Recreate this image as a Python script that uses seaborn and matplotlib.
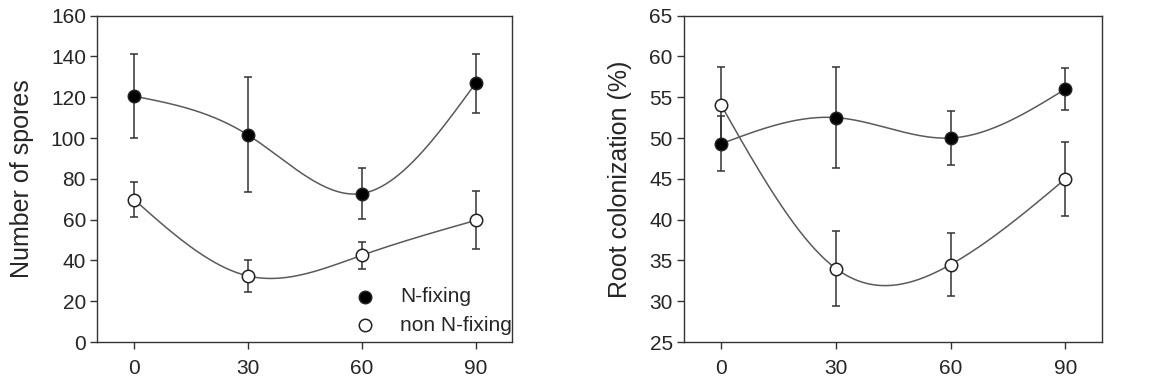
import numpy as np
import pandas as pd
import matplotlib
matplotlib.use('Agg')
import matplotlib.pyplot as plt
import seaborn as sns

# Data
days = [0, 30, 60, 90]
spores_fix = [120.5, 101.5, 72.8, 126.8]
spores_fix_err = [20.7, 28.2, 12.7, 14.5]
spores_non = [69.8, 32.4, 42.5, 59.6]
spores_non_err = [8.4, 8.0, 6.5, 14.2]

col_fix = [49.3, 52.5, 50.0, 56.0]
col_fix_err = [3.4, 6.2, 3.35, 2.6]
col_non = [54.0, 34.0, 34.5, 45.0]
col_non_err = [4.7, 4.6, 3.9, 4.5]

labels = ['N-fixing', 'non N-fixing']


def natural_spline(x, y, n=200):
    # natural cubic spline, only used to draw the smooth connecting curve
    x = np.asarray(x, float)
    y = np.asarray(y, float)
    k = len(x)
    h = np.diff(x)
    A = np.zeros((k, k))
    r = np.zeros(k)
    A[0, 0] = A[-1, -1] = 1
    for i in range(1, k - 1):
        A[i, i - 1] = h[i - 1]
        A[i, i] = 2 * (h[i - 1] + h[i])
        A[i, i + 1] = h[i]
        r[i] = 6 * ((y[i + 1] - y[i]) / h[i] - (y[i] - y[i - 1]) / h[i - 1])
    m = np.linalg.solve(A, r)
    xs = np.linspace(x[0], x[-1], n)
    idx = np.clip(np.searchsorted(x, xs) - 1, 0, k - 2)
    t0 = xs - x[idx]
    t1 = x[idx + 1] - xs
    hh = h[idx]
    ys = (m[idx] * t1 ** 3 + m[idx + 1] * t0 ** 3) / (6 * hh) \
        + (y[idx] / hh - m[idx] * hh / 6) * t1 \
        + (y[idx + 1] / hh - m[idx + 1] * hh / 6) * t0
    return xs, ys


sns.set_style('ticks')
plt.rcParams['font.family'] = ['Liberation Sans', 'DejaVu Sans']

fig = plt.figure(figsize=(11.59, 3.90), dpi=100)
ax1 = fig.add_axes([0.0837, 0.123, 0.358, 0.837])
ax2 = fig.add_axes([0.590, 0.123, 0.361, 0.837])

line_col = '#5a5a5a'
err_col = '#333333'

panels = [
    (ax1, spores_fix, spores_fix_err, spores_non, spores_non_err,
     'Number of spores', (0, 160), np.arange(0, 161, 20), -0.153),
    (ax2, col_fix, col_fix_err, col_non, col_non_err,
     'Root colonization (%)', (25, 65), np.arange(25, 66, 5), -0.123),
]

for ax, yf, ef, yn, en, ylab, ylim, yticks, labx in panels:
    for y, e, face, lab in [(yn, en, 'white', labels[1]), (yf, ef, 'black', labels[0])]:
        xs, ys = natural_spline(days, y)
        sns.lineplot(x=xs, y=ys, ax=ax, color=line_col, linewidth=1.1,
                     sort=False, estimator=None, zorder=2)
        ax.errorbar(days, y, yerr=e, fmt='none', ecolor=err_col,
                    elinewidth=1.1, capsize=3, capthick=1.1, zorder=3)
        df = pd.DataFrame({'day': days, 'val': y})
        sns.scatterplot(data=df, x='day', y='val', ax=ax, s=80,
                        color=face, edgecolor='#222222', linewidth=1.1,
                        zorder=4, label=lab)
    ax.set_xlim(-9.8, 99.6)
    ax.set_ylim(*ylim)
    ax.set_xticks(days)
    ax.set_yticks(yticks)
    ax.set_xlabel('')
    ax.set_ylabel(ylab, fontsize=18)
    ax.yaxis.set_label_coords(labx, 0.5)
    ax.tick_params(axis='both', labelsize=15, length=5, width=1,
                   direction='out', color='#333333', pad=3)
    ax.tick_params(axis='x', pad=7)
    for s in ax.spines.values():
        s.set_color('#333333')
        s.set_linewidth(1.0)

# legend only in left panel, order: N-fixing first
h, l = ax1.get_legend_handles_labels()
order = [l.index(labels[0]), l.index(labels[1])]
ax1.legend([h[i] for i in order], [l[i] for i in order], loc='lower right',
           frameon=False, fontsize=15, handletextpad=0.7, labelspacing=0.45,
           borderaxespad=0.0, borderpad=0.2, bbox_to_anchor=(1.01, 0.01))
if ax2.get_legend() is not None:
    ax2.get_legend().remove()

fig.savefig('out.png', dpi=100)
